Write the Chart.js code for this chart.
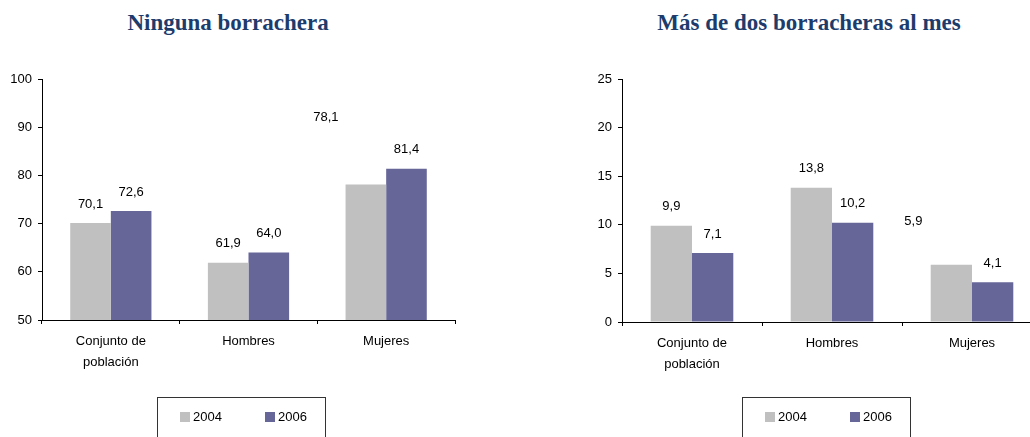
<!DOCTYPE html>
<html>
<head>
<meta charset="utf-8">
<script src="https://cdn.jsdelivr.net/npm/chart.js@4/dist/chart.umd.min.js"></script>
<style>
  body { margin:0; width:1030px; height:437px; overflow:hidden; background:#fff; position:relative; }
  canvas { position:absolute; top:0; }
  .ttl { position:absolute; top:10px; font-family:"Liberation Serif", serif; font-weight:bold; font-size:23px; color:#1d3c6c; white-space:nowrap; transform:translateX(-50%); }
</style>
</head>
<body>
<div class="ttl" style="left:228px">Ninguna borrachera</div>
<div class="ttl" style="left:809px">Más de dos borracheras al mes</div>
<canvas id="left" width="460" height="437" style="left:0px"></canvas>
<canvas id="right" width="454" height="437" style="left:588px"></canvas>
<script>
// data
var categories = [['Conjunto de', 'población'], 'Hombres', 'Mujeres'];
var years = ['2004', '2006'];
var ninguna2004 = [70.1, 61.9, 78.1];
var ninguna2006 = [72.6, 64.0, 81.4];
var masDos2004 = [9.9, 13.8, 5.9];
var masDos2006 = [7.1, 10.2, 4.1];
var yTicksLeft = [50, 60, 70, 80, 90, 100];
var yTicksRight = [0, 5, 10, 15, 20, 25];

var colors = ['#C0C0C0', '#666699'];
var font = 'Liberation Sans, Arial, sans-serif';

// value labels above the bars (a couple are displaced like in the original)
var valueLabels = {
  id: 'valueLabels',
  afterDatasetsDraw: function(chart, args, opts) {
    var ctx = chart.ctx;
    ctx.save();
    ctx.font = '13px ' + font;
    ctx.fillStyle = '#000';
    ctx.textAlign = 'center';
    ctx.textBaseline = 'middle';
    chart.data.datasets.forEach(function(ds, di) {
      chart.getDatasetMeta(di).data.forEach(function(bar, i) {
        var n = (opts.nudge || {})[di + '-' + i] || [0, 0];
        var txt = ds.data[i].toFixed(1).replace('.', ',');
        ctx.fillText(txt, bar.x + n[0], bar.y - 19 + n[1]);
      });
    });
    ctx.restore();
  }
};

// framed legend under the chart
var boxLegend = {
  id: 'boxLegend',
  afterDraw: function(chart, args, opts) {
    var ctx = chart.ctx;
    ctx.save();
    ctx.strokeStyle = '#333';
    ctx.lineWidth = 1;
    ctx.strokeRect(opts.x + 0.5, opts.y + 0.5, opts.w, 60);
    ctx.font = '13px ' + font;
    ctx.textBaseline = 'middle';
    ctx.fillStyle = '#000';
    chart.data.datasets.forEach(function(ds, di) {
      var x = opts.x + 23 + di * 85;
      ctx.fillStyle = ds.backgroundColor;
      ctx.fillRect(x, opts.y + 15, 10, 10);
      ctx.fillStyle = '#000';
      ctx.fillText(ds.label, x + 13, opts.y + 20);
    });
    ctx.restore();
  }
};

function makeChart(id, a, b, ticks, yWidth, xHeight, pad, legendX, nudge) {
  return new Chart(document.getElementById(id), {
    type: 'bar',
    data: {
      labels: categories,
      datasets: [
        { label: years[0], data: a, backgroundColor: colors[0] },
        { label: years[1], data: b, backgroundColor: colors[1] }
      ]
    },
    options: {
      responsive: false,
      animation: false,
      devicePixelRatio: 1,
      datasets: { bar: { barPercentage: 1, categoryPercentage: 0.59 } },
      layout: { padding: pad },
      plugins: {
        legend: { display: false },
        tooltip: { enabled: false },
        valueLabels: { nudge: nudge },
        boxLegend: { x: legendX, y: 397, w: 168 }
      },
      scales: {
        x: {
          grid: { drawOnChartArea: false, offset: true, tickLength: 4, color: '#000' },
          border: { color: '#000' },
          ticks: { color: '#000', padding: 7, font: { family: font, size: 13, lineHeight: 1.6 } },
          afterFit: function(s) { s.height = xHeight; }
        },
        y: {
          min: ticks[0],
          max: ticks[ticks.length - 1],
          afterBuildTicks: function(s) { s.ticks = ticks.map(function(v) { return { value: v }; }); },
          grid: { drawOnChartArea: false, tickLength: 4, color: '#000' },
          border: { color: '#000' },
          ticks: { color: '#000', padding: 6, font: { family: font, size: 13 } },
          afterFit: function(s) { s.width = yWidth; }
        }
      }
    },
    plugins: [valueLabels, boxLegend]
  });
}

makeChart('left', ninguna2004, ninguna2006, yTicksLeft, 42, 117,
  { top: 79, right: 5, left: 0, bottom: 0 }, 157, { '0-2': [-40, -48] });
makeChart('right', masDos2004, masDos2006, yTicksRight, 34, 115,
  { top: 79, right: 0, left: 0, bottom: 0 }, 154, { '0-2': [-38, -24] });
</script>
</body>
</html>
